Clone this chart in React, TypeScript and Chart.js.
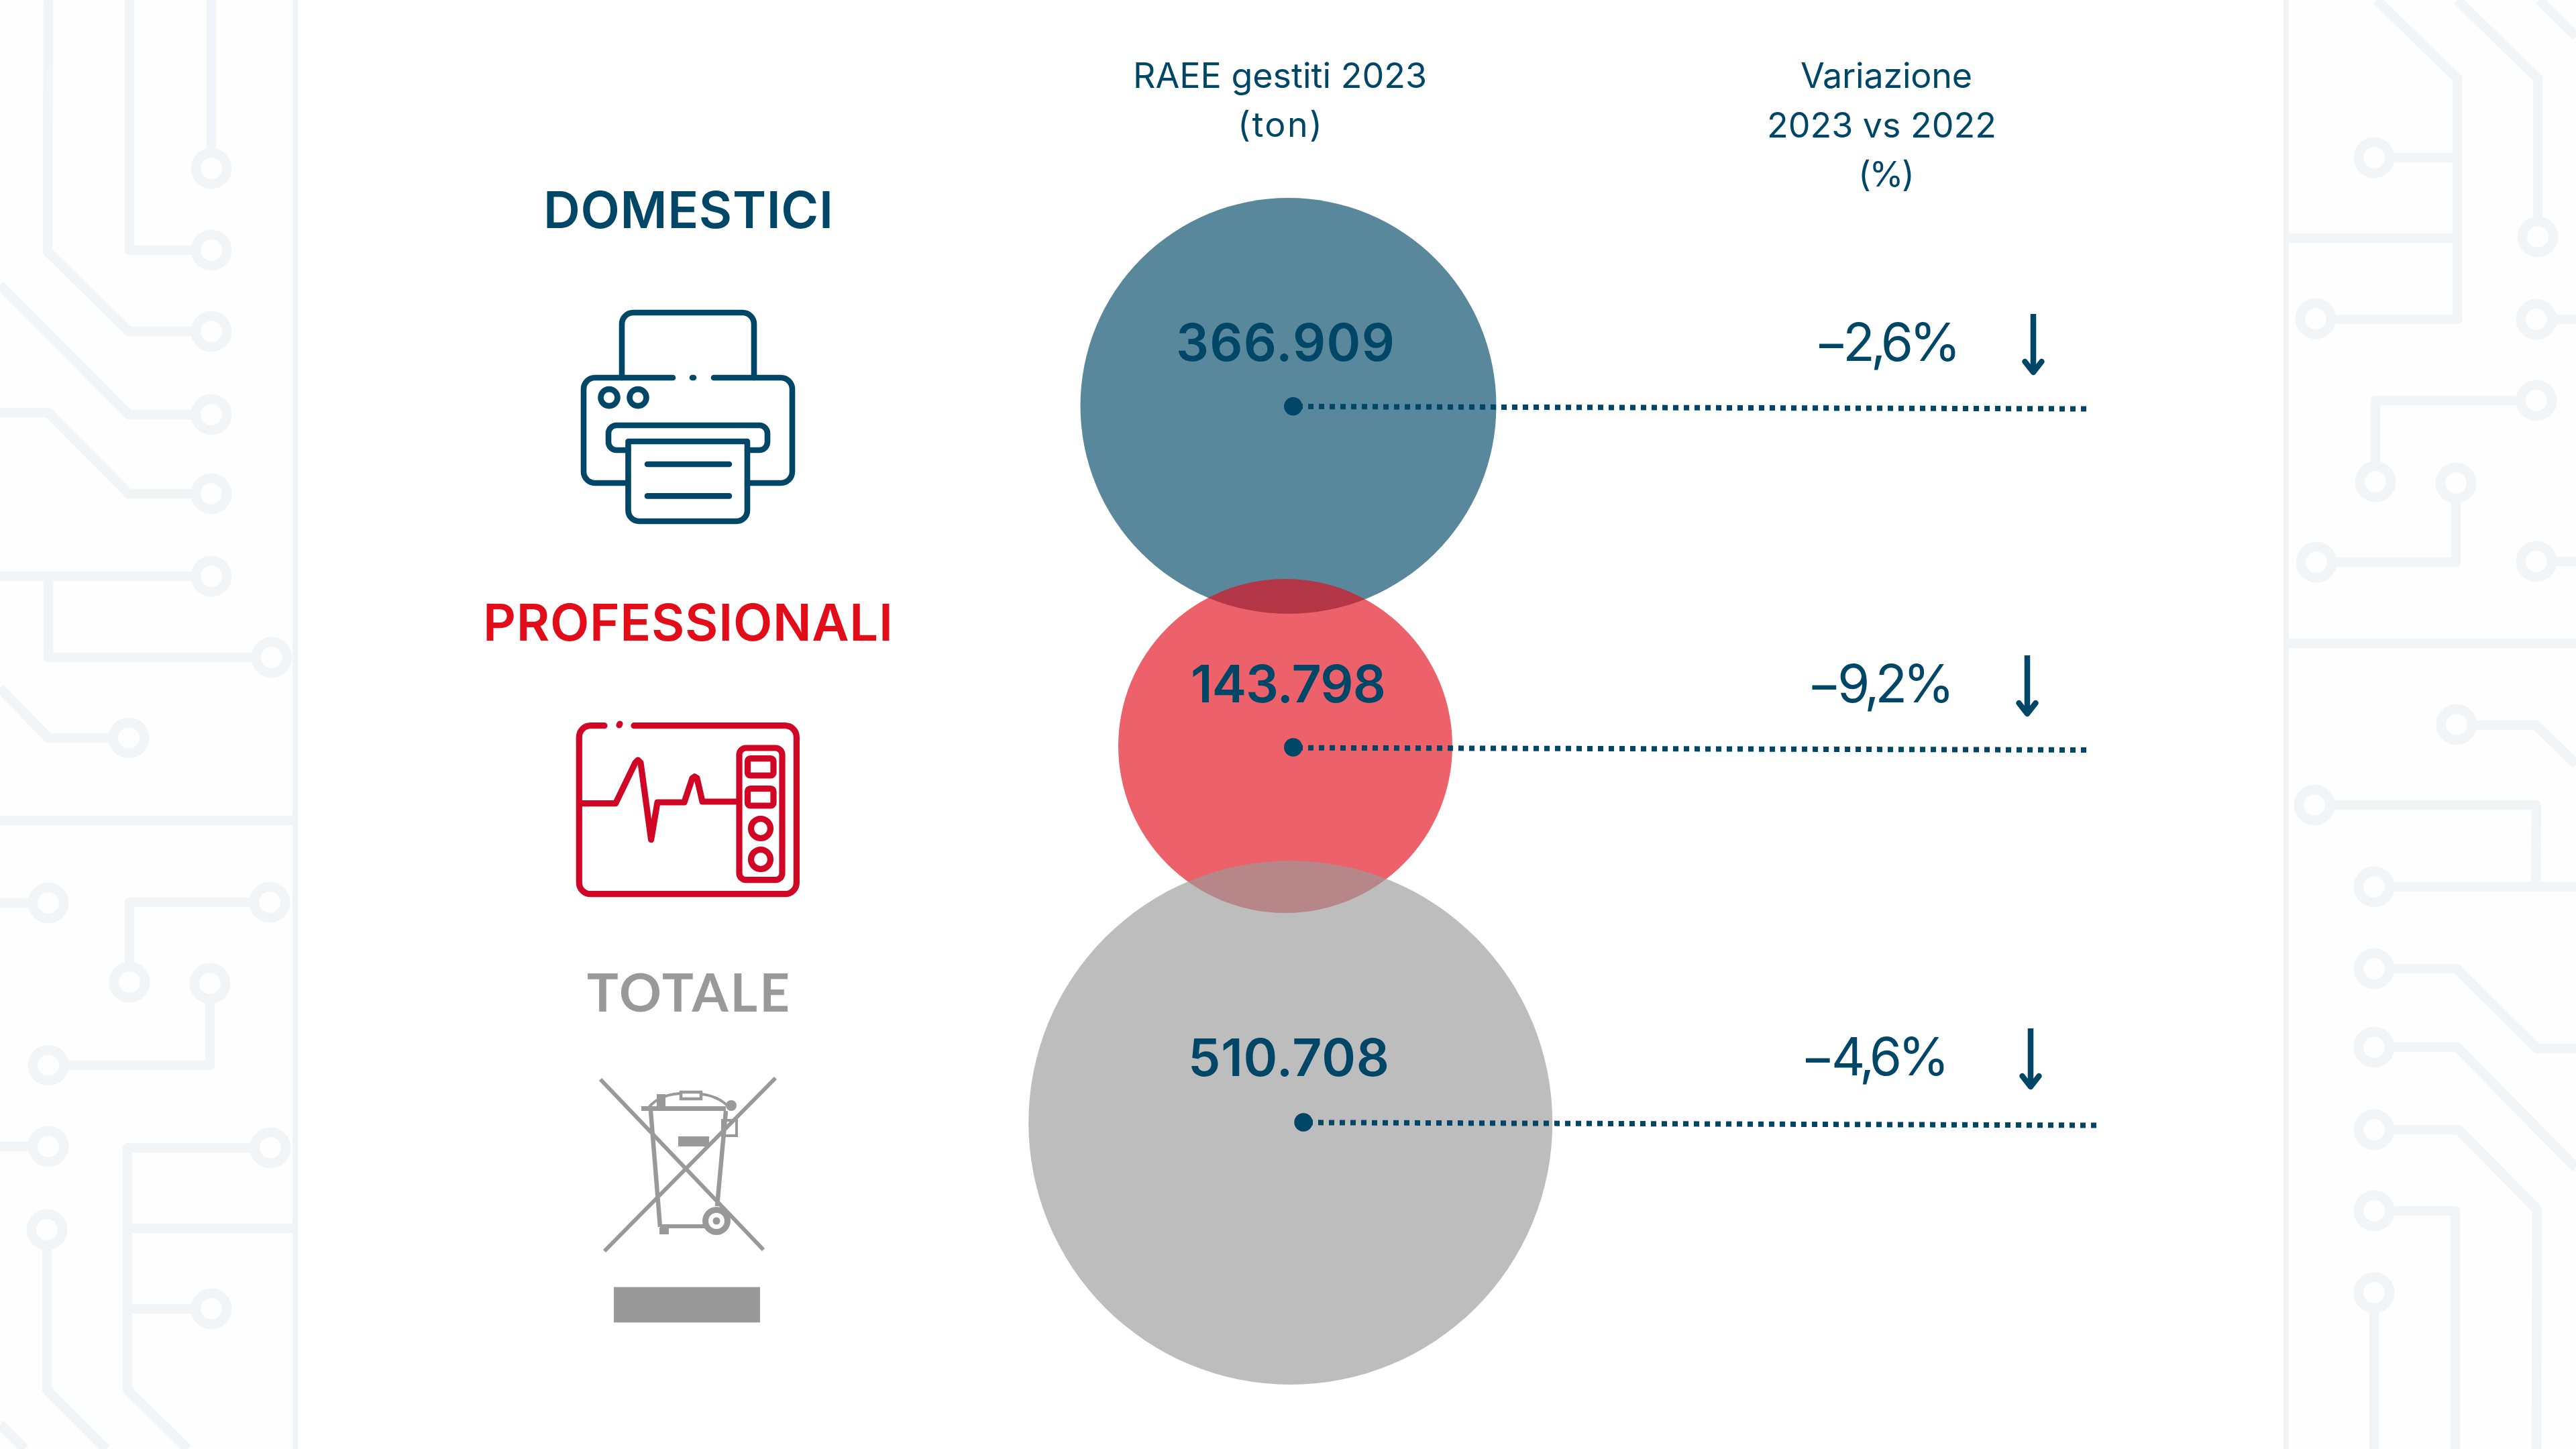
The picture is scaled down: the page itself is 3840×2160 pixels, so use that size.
import React, { useEffect, useRef } from "react";
import { Chart, registerables } from "chart.js";

Chart.register(...registerables);

// ---- data ----
const categories = ["DOMESTICI", "PROFESSIONALI", "TOTALE"];
const tonnes2023 = [366909, 143798, 510708];
const variationPct = [-2.6, -9.2, -4.6];
const headerTon = ["RAEE gestiti 2023", "(ton)"];
const headerVar = ["Variazione", "2023 vs 2022", "(%)"];

// ---- layout (pixel-valued scales: 1 unit = 1 px) ----
const bubbleX = [1920.5, 1916, 1923.7];
const bubbleY = [605, 1112, 1673.5];
const bubbleR = [310, 249, 390.5];
const dotX = [1927.7, 1927.7, 1943];
const dotY = [605.7, 1114, 1673];
const leaderStartX = [1934, 1934, 1949];
const leaderStartY = [606, 1114.7, 1673.3];
const leaderEndX = [3111, 3111, 3126];
const leaderEndY = [609.5, 1118, 1677.5];

const NAVY = "#004666";
const RED = "#e30d1a";
const GREY = "#999999";
const fills = ["rgba(0,70,102,0.65)", "rgba(227,13,26,0.65)", "rgba(153,153,153,0.65)"];

const fmtTon = (v: number) => String(v).replace(/\B(?=(\d{3})+$)/g, ".");
const fmtPct = (v: number) => "\u2212" + Math.abs(v).toFixed(1).replace(".", ",") + "%";

function fitText(ctx: CanvasRenderingContext2D, text: string, cx: number, base: number, font: string, color: string, target: number) {
  ctx.save();
  ctx.font = font;
  ctx.fillStyle = color;
  ctx.textAlign = "left";
  ctx.textBaseline = "alphabetic";
  (ctx as any).letterSpacing = "0px";
  const w = ctx.measureText(text).width;
  const ls = (target - w) / Math.max(1, text.length - 1);
  (ctx as any).letterSpacing = ls.toFixed(2) + "px";
  ctx.fillText(text, cx - target / 2, base);
  ctx.restore();
}

// ---- decorative circuit background ----
type P = number[][];
const traces: P[] = [
  [[315, 0], [315, 251]],
  [[193, 0], [193, 373], [315, 373]],
  [[72, 0], [71, 375], [192, 494], [315, 494]],
  [[0, 425], [192, 618], [315, 618]],
  [[0, 615], [72, 615], [192, 736], [315, 736]],
  [[0, 859], [315, 859]],
  [[72, 859], [72, 980], [405, 980]],
  [[0, 1026], [72, 1100], [192, 1100]],
  [[0, 1223], [440, 1223]],
  [[0, 1346], [72, 1346]],
  [[193, 1464], [193, 1345], [402, 1345]],
  [[313, 1466], [313, 1588], [72, 1588]],
  [[0, 1709], [72, 1709]],
  [[70, 1833], [70, 2072], [158, 2160]],
  [[403, 1711], [190, 1711], [190, 2072], [280, 2160]],
  [[190, 1831], [440, 1831]],
  [[190, 1951], [315, 1951]],
  [[0, 2123], [37, 2160]],
  [[3543, 0], [3663, 117], [3663, 476], [3452, 476]],
  [[3539, 235], [3663, 235]],
  [[3408, 355], [3663, 355]],
  [[3663, 0], [3783, 117], [3783, 353]],
  [[3785, 0], [3840, 54]],
  [[3781, 476], [3840, 476]],
  [[3781, 597], [3541, 597], [3541, 718]],
  [[3661, 720], [3661, 838], [3453, 838]],
  [[3781, 837], [3840, 837]],
  [[3408, 959], [3840, 959]],
  [[3662, 1081], [3780, 1081], [3840, 1139]],
  [[3450, 1200], [3781, 1200], [3780, 1322]],
  [[3539, 1322], [3840, 1322]],
  [[3539, 1444], [3662, 1444], [3782, 1563], [3840, 1563]],
  [[3539, 1561], [3663, 1561], [3840, 1741]],
  [[3539, 1684], [3665, 1684], [3782, 1803], [3781, 2160]],
  [[3539, 1805], [3660, 1805], [3660, 2160]],
  [[3539, 1927], [3539, 2160]],
];
const rings: P = [
  [315, 251], [315, 373], [315, 494], [315, 618], [315, 736], [315, 859], [405, 980], [192, 1100],
  [72, 1346], [193, 1464], [402, 1345], [313, 1466], [72, 1588], [72, 1709], [70, 1833], [403, 1711], [315, 1951],
  [3539, 235], [3452, 475], [3783, 353], [3781, 476], [3781, 597], [3541, 718], [3661, 720], [3453, 838], [3781, 837],
  [3662, 1080], [3450, 1200], [3539, 1322], [3539, 1444], [3539, 1561], [3539, 1684], [3539, 1805], [3539, 1927],
];

function drawBackground(ctx: CanvasRenderingContext2D) {
  const TRACE = "#f2f5f8";
  const PANEL = "#fefefe";
  ctx.save();
  ctx.fillStyle = "#ffffff";
  ctx.fillRect(0, 0, 3840, 2160);
  ctx.fillStyle = PANEL;
  ctx.fillRect(0, 0, 440, 2160);
  ctx.fillRect(3408, 0, 432, 2160);
  ctx.strokeStyle = TRACE;
  ctx.lineJoin = "round";
  ctx.lineCap = "butt";
  ctx.lineWidth = 14.7;
  traces.forEach((t) => {
    ctx.beginPath();
    t.forEach(([x, y], i) => (i ? ctx.lineTo(x, y) : ctx.moveTo(x, y)));
    ctx.stroke();
  });
  ctx.lineWidth = 14.7;
  rings.forEach(([x, y]) => {
    ctx.beginPath();
    ctx.arc(x, y, 23.2, 0, Math.PI * 2);
    ctx.fillStyle = PANEL;
    ctx.fill();
    ctx.stroke();
  });
  ctx.lineWidth = 8;
  ctx.beginPath();
  ctx.moveTo(440, 0);
  ctx.lineTo(440, 2160);
  ctx.moveTo(3408, 0);
  ctx.lineTo(3408, 2160);
  ctx.stroke();
  ctx.restore();
}

// ---- icons ----
function drawPrinter(ctx: CanvasRenderingContext2D) {
  ctx.save();
  ctx.strokeStyle = NAVY;
  ctx.lineWidth = 8.6;
  ctx.lineCap = "round";
  ctx.lineJoin = "round";
  const s = (f: () => void) => { ctx.beginPath(); f(); ctx.stroke(); };
  s(() => { ctx.moveTo(927, 563); ctx.lineTo(927, 483); ctx.arcTo(927, 466, 944, 466, 17); ctx.lineTo(1107, 466); ctx.arcTo(1124, 466, 1124, 483, 17); ctx.lineTo(1124, 563); });
  s(() => { ctx.moveTo(1003, 563); ctx.lineTo(887, 563); ctx.arcTo(870, 563, 870, 580, 17); ctx.lineTo(870, 703); ctx.arcTo(870, 720, 887, 720, 17); ctx.lineTo(936, 720); });
  s(() => { ctx.moveTo(1064, 563); ctx.lineTo(1164, 563); ctx.arcTo(1181, 563, 1181, 580, 17); ctx.lineTo(1181, 703); ctx.arcTo(1181, 720, 1164, 720, 17); ctx.lineTo(1114, 720); });
  s(() => { ctx.moveTo(1032, 563); ctx.lineTo(1034, 563); });
  s(() => { ctx.arc(908, 592.6, 12.5, 0, Math.PI * 2); });
  s(() => { ctx.arc(951, 592.6, 12.5, 0, Math.PI * 2); });
  s(() => { ctx.moveTo(936.5, 671); ctx.lineTo(919, 671); ctx.arcTo(907, 671, 907, 659, 12); ctx.lineTo(907, 646); ctx.arcTo(907, 634, 919, 634, 12); ctx.lineTo(1132, 634); ctx.arcTo(1144, 634, 1144, 646, 12); ctx.lineTo(1144, 659); ctx.arcTo(1144, 671, 1132, 671, 12); ctx.lineTo(1114, 671); });
  s(() => { ctx.moveTo(936.5, 658); ctx.lineTo(1114, 658); ctx.lineTo(1114, 761); ctx.arcTo(1114, 777, 1098, 777, 16); ctx.lineTo(952, 777); ctx.arcTo(936.5, 777, 936.5, 761, 16); ctx.closePath(); });
  s(() => { ctx.moveTo(965, 692); ctx.lineTo(1087, 692); });
  s(() => { ctx.moveTo(965, 739.4); ctx.lineTo(1087, 739.4); });
  ctx.restore();
}

function drawMonitor(ctx: CanvasRenderingContext2D) {
  ctx.save();
  ctx.strokeStyle = "#d00624";
  ctx.lineWidth = 9.2;
  ctx.lineCap = "round";
  ctx.lineJoin = "round";
  const s = (f: () => void) => { ctx.beginPath(); f(); ctx.stroke(); };
  s(() => { ctx.moveTo(901, 1081.7); ctx.lineTo(880, 1081.7); ctx.arcTo(863.3, 1081.7, 863.3, 1099, 17); ctx.lineTo(863.3, 1316); ctx.arcTo(863.3, 1332.7, 880, 1332.7, 17); ctx.lineTo(1170, 1332.7); ctx.arcTo(1187.4, 1332.7, 1187.4, 1316, 17); ctx.lineTo(1187.4, 1099); ctx.arcTo(1187.4, 1081.7, 1170, 1081.7, 17); ctx.lineTo(945, 1081.7); });
  s(() => { ctx.moveTo(923, 1081); ctx.lineTo(924, 1079); });
  s(() => { ctx.roundRect(1102, 1115, 64, 196.7, 10); });
  s(() => { ctx.roundRect(1114.5, 1130.7, 38.5, 25.3, 4); });
  s(() => { ctx.roundRect(1114.5, 1175.7, 38.5, 25.3, 4); });
  s(() => { ctx.arc(1134, 1235, 14.5, 0, Math.PI * 2); });
  s(() => { ctx.arc(1134, 1281, 14.5, 0, Math.PI * 2); });
  s(() => {
    const ecg = [[867.5, 1197.7], [917.6, 1197.7], [947, 1137], [951, 1133], [955, 1137], [970.6, 1251.7], [980, 1196], [1020, 1196], [1032, 1160], [1035.4, 1157.7], [1039, 1160], [1047, 1195], [1098, 1195]];
    ecg.forEach(([x, y], i) => (i ? ctx.lineTo(x, y) : ctx.moveTo(x, y)));
  });
  ctx.restore();
}

function drawBin(ctx: CanvasRenderingContext2D) {
  ctx.save();
  ctx.strokeStyle = GREY;
  ctx.fillStyle = GREY;
  ctx.lineCap = "butt";
  ctx.lineJoin = "miter";
  const s = (w: number, f: () => void) => { ctx.lineWidth = w; ctx.beginPath(); f(); ctx.stroke(); };
  s(6, () => { ctx.moveTo(895, 1609); ctx.lineTo(1138, 1863); });
  s(6, () => { ctx.moveTo(1156, 1607); ctx.lineTo(901, 1865); });
  s(7, () => { ctx.moveTo(956, 1652.6); ctx.lineTo(1082, 1652.6); });
  s(4, () => { ctx.moveTo(967, 1651); ctx.quadraticCurveTo(985, 1628, 1030, 1630); ctx.quadraticCurveTo(1065, 1630, 1083, 1647); });
  ctx.fillStyle = "#ffffff";
  ctx.fillRect(1013, 1626, 34, 14);
  s(4.5, () => { ctx.rect(1015, 1628, 30, 10); });
  ctx.fillStyle = GREY;
  ctx.fillRect(979, 1631, 13, 20);
  ctx.beginPath(); ctx.arc(1090, 1648, 8, 0, Math.PI * 2); ctx.fill();
  s(4, () => { ctx.rect(1077, 1670, 21, 23); });
  ctx.fillRect(1011, 1694, 46, 15);
  s(6.5, () => { ctx.moveTo(970, 1656); ctx.lineTo(984, 1829); });
  s(6.5, () => { ctx.moveTo(1082, 1656); ctx.lineTo(1069, 1798); });
  s(6, () => { ctx.moveTo(984, 1828); ctx.lineTo(1050, 1828); });
  ctx.fillRect(983, 1830, 14, 10);
  ctx.beginPath(); ctx.arc(1068, 1820, 21, 0, Math.PI * 2); ctx.fill();
  ctx.fillStyle = "#ffffff";
  ctx.beginPath(); ctx.arc(1068, 1820, 12, 0, Math.PI * 2); ctx.fill();
  ctx.fillStyle = GREY;
  ctx.beginPath(); ctx.arc(1068, 1820, 5.5, 0, Math.PI * 2); ctx.fill();
  ctx.fillRect(915, 1918.6, 218, 52.8);
  ctx.restore();
}

function drawArrow(ctx: CanvasRenderingContext2D, x: number, top: number, tip: number) {
  ctx.save();
  ctx.strokeStyle = NAVY;
  ctx.lineWidth = 8.5;
  ctx.lineCap = "butt";
  ctx.beginPath();
  ctx.moveTo(x, top);
  ctx.lineTo(x, tip);
  ctx.stroke();
  ctx.lineCap = "round";
  ctx.lineJoin = "round";
  ctx.beginPath();
  ctx.moveTo(x - 12.5, tip - 16);
  ctx.lineTo(x, tip);
  ctx.lineTo(x + 12.5, tip - 16);
  ctx.stroke();
  ctx.restore();
}

const overlay = {
  id: "overlay",
  beforeDatasetsDraw(chart: any) {
    drawBackground(chart.ctx);
  },
  afterDatasetsDraw(chart: any) {
    const ctx: CanvasRenderingContext2D = chart.ctx;
    const inter = (w: number, s: number) => `${w} ${s}px Inter, sans-serif`;
    fitText(ctx, headerTon[0], 1908, 131, inter(400, 52), NAVY, 438);
    fitText(ctx, headerTon[1], 1908, 204, inter(400, 52), NAVY, 126);
    fitText(ctx, headerVar[0], 2812, 131, inter(400, 52), NAVY, 256);
    fitText(ctx, headerVar[1], 2805, 205, inter(400, 52), NAVY, 342);
    fitText(ctx, headerVar[2], 2812, 278, inter(400, 52), NAVY, 84);

    fitText(ctx, categories[0], 1026, 340, inter(600, 76), NAVY, 432);
    fitText(ctx, categories[1], 1025.5, 955, inter(600, 76), RED, 611);
    fitText(ctx, categories[2], 1026, 1508, `700 78px Lato, sans-serif`, GREY, 302);

    const valueCx = [1916, 1920.5, 1921];
    const valueBase = [538, 1047, 1604];
    const valueW = [326, 291, 300];
    tonnes2023.forEach((v, i) => fitText(ctx, fmtTon(v), valueCx[i], valueBase[i], inter(600, 77), NAVY, valueW[i]));

    const pctCx = [2813.5, 2803.5, 2795];
    const pctBase = [538, 1047, 1603];
    const pctW = [219, 220, 222];
    variationPct.forEach((v, i) => fitText(ctx, fmtPct(v), pctCx[i], pctBase[i], inter(400, 78), NAVY, pctW[i]));

    drawArrow(ctx, 3031, 468, 555);
    drawArrow(ctx, 3022, 977, 1064);
    drawArrow(ctx, 3027, 1533, 1620);

    drawPrinter(ctx);
    drawMonitor(ctx);
    drawBin(ctx);
  },
};

export default function App() {
  const ref = useRef<HTMLCanvasElement>(null);
  useEffect(() => {
    const leaders = categories.map((c, i) => ({
      type: "line" as const,
      label: c + " leader",
      data: [
        { x: leaderStartX[i], y: leaderStartY[i] },
        { x: leaderEndX[i], y: leaderEndY[i] },
      ],
      borderColor: NAVY,
      borderWidth: 8,
      borderDash: [8, 8],
      borderCapStyle: "butt" as const,
      pointRadius: 0,
      tension: 0,
      fill: false,
    }));
    const chart = new Chart(ref.current!, {
      type: "bubble",
      data: {
        datasets: [
          {
            label: "markers",
            data: categories.map((_, i) => ({ x: dotX[i], y: dotY[i], r: 13.7 })),
            backgroundColor: NAVY,
            borderWidth: 0,
          },
          ...leaders,
          ...[2, 1, 0].map((i) => ({
            label: categories[i],
            data: [{ x: bubbleX[i], y: bubbleY[i], r: bubbleR[i], v: tonnes2023[i] }],
            backgroundColor: fills[i],
            borderWidth: 0,
          })),
        ] as any,
      },
      options: {
        animation: false,
        responsive: false,
        events: [],
        layout: { padding: 0, autoPadding: false },
        plugins: { legend: { display: false }, tooltip: { enabled: false }, title: { display: false } },
        scales: {
          x: { type: "linear", min: 0, max: 3840, display: false },
          y: { type: "linear", min: 0, max: 2160, reverse: true, display: false },
        },
      },
      plugins: [overlay],
    });
    return () => chart.destroy();
  }, []);
  return (
    <div style={{ position: "absolute", left: 0, top: 0, width: 3840, height: 2160, overflow: "hidden", background: "#fff" }}>
      <canvas ref={ref} width={3840} height={2160} style={{ display: "block", width: 3840, height: 2160 }} />
    </div>
  );
}
